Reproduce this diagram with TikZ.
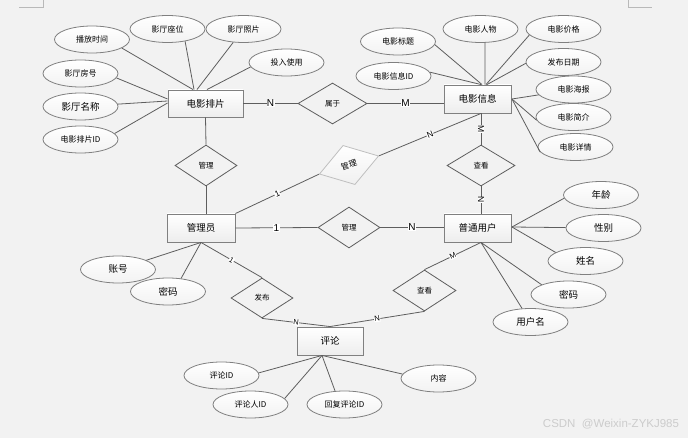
\documentclass[tikz,border=0pt]{standalone}
\usepackage{fontspec}
\setmainfont{Liberation Sans}
\newfontfamily\cjk{Noto Sans CJK SC}
\usetikzlibrary{shapes.geometric,calc}
\definecolor{bgc}{HTML}{F2F2F2}
\definecolor{linec}{HTML}{5E5E5E}
\definecolor{bordc}{HTML}{808080}
\begin{document}
\begin{tikzpicture}[x=1pt,y=-1pt,
  ent/.style={draw=bordc, line width=0.9pt, top color=white, bottom color=gray!14,
    minimum width=67pt, minimum height=28pt, inner sep=0pt, font=\cjk\fontsize{9.5}{10}\selectfont},
  attr/.style={ellipse, draw=bordc, line width=0.8pt, top color=white, bottom color=gray!10,
    minimum width=75pt, minimum height=27pt, inner sep=0pt, font=\cjk\fontsize{8}{9}\selectfont},
  attrb/.style={attr, font=\cjk\fontsize{9.5}{10}\selectfont},
  rel/.style={diamond, draw=linec, line width=0.8pt, fill=bgc, minimum width=62pt,
    minimum height=41pt, inner sep=0pt, font=\cjk\fontsize{7.5}{8}\selectfont},
  conn/.style={draw=linec, line width=0.8pt},
  lab/.style={fill=white, inner sep=0.4pt, font=\fontsize{10}{10}\selectfont, text=black},
  slab/.style={lab, sloped, font=\fontsize{7.5}{8}\selectfont},
  cornermark/.style={draw=gray!55, line width=0.7pt}
]
\fill[bgc] (0,0) rectangle (688,438);
\useasboundingbox (0,0) rectangle (688,438);
\draw[cornermark] (43,0) -- (43,7) -- (19,7);
\draw[cornermark] (628,0) -- (628,7) -- (652,7);

% entities
\node[ent, minimum width=75pt, minimum height=27pt] (pp) at (205.5,103.5) {电影排片};
\node[ent] (xx) at (477.5,99) {电影信息};
\node[ent, minimum width=68pt] (gl) at (201,228) {管理员};
\node[ent] (pt) at (477.5,228) {普通用户};
\node[ent, minimum width=66pt] (pl) at (330,341) {评论};

% relations
\node[rel, minimum width=69pt] (sy) at (332.5,103.5) {属于};
\node[rel] (gl1) at (206,165.5) {管理};
\node[rel, minimum width=68pt] (ck1) at (481,165.5) {查看};
\node[rel] (gl3) at (349,227.5) {管理};
\node[rel, minimum height=40pt] (fb) at (262,298) {发布};
\node[rel, minimum width=63pt] (ck2) at (424.5,290.5) {查看};
\node[rel, rotate=17, draw=gray!50, top color=white, bottom color=gray!12,
  font=\cjk\fontsize{8}{9}\selectfont] (gl2) at (349,165) {管理};

% attributes of 电影排片
\node[attr] (bf) at (92,39.5) {播放时间};
\node[attr] (zw) at (167.5,29) {影厅座位};
\node[attr] (zp) at (243.5,29) {影厅照片};
\node[attr] (tr) at (286.5,62.5) {投入使用};
\node[attr] (fh) at (80.5,73.5) {影厅房号};
\node[attrb] (mc) at (80.5,106.5) {影厅名称};
\node[attr] (ppid) at (80.5,139.5) {电影排片ID};

% attributes of 电影信息
\node[attr] (bt) at (398,41.5) {电影标题};
\node[attr] (rw) at (480.5,29) {电影人物};
\node[attr] (jg) at (563.5,29) {电影价格};
\node[attr] (rq) at (563.5,62) {发布日期};
\node[attr] (xid) at (393.5,76) {电影信息ID};
\node[attr] (hb) at (573.5,89.5) {电影海报};
\node[attr] (jj) at (573.5,117) {电影简介};
\node[attr] (xq) at (575.5,147) {电影详情};

% attributes of 普通用户
\node[attrb] (nl) at (601,195) {年龄};
\node[attrb] (xb) at (603.5,228) {性别};
\node[attrb] (xm) at (585.5,261) {姓名};
\node[attrb] (mm2) at (568.5,294.5) {密码};
\node[attrb] (yhm) at (530.5,322) {用户名};

% attributes of 管理员
\node[attrb] (zh) at (118,269.5) {账号};
\node[attrb] (mm1) at (168,291.5) {密码};

% attributes of 评论
\node[attr] (plid) at (221.5,375.5) {评论ID};
\node[attr] (plr) at (250.5,404.5) {评论人ID};
\node[attr] (hf) at (344.5,404.5) {回复评论ID};
\node[attr] (nr) at (438.5,378.5) {内容};

% attribute connectors
\draw[conn] (bf.-16) -- ($(pp.north)+(-12.5,0)$);
\draw[conn] (zw.-35) -- ($(pp.north)+(-11.5,0)$);
\draw[conn] (zp) -- ($(pp.north)+(-8.5,0)$);
\draw[conn] (tr.187) -- ($(pp.north)+(1.5,0)$);
\draw[conn] (fh.-7) -- ($(pp.west)+(0,-4.5)$);
\draw[conn] (mc) -- ($(pp.west)+(0,-2.5)$);
\draw[conn] (ppid.10) -- ($(pp.west)+(0,-0.5)$);

\draw[conn] (bt.-5) -- ($(xx.north)+(4.5,0)$);
\draw[conn] (rw.-72) -- ($(xx.north)+(7.5,0)$);
\draw[conn] (jg.190) -- ($(xx.north)+(8.5,0)$);
\draw[conn] (rq.182) -- ($(xx.north)+(9.5,0)$);
\draw[conn] (xid.6) -- ($(xx.north)+(3.5,0)$);
\draw[conn] (hb) -- ($(xx.east)+(0.5,0)$);
\draw[conn] (jj.185) -- ($(xx.east)+(0.5,0)$);
\draw[conn] (xq.188) -- ($(xx.east)+(0.5,0)$);

\draw[conn] (nl.185) -- ($(pt.east)+(0.5,-1)$);
\draw[conn] (xb) -- ($(pt.east)+(0.5,-1)$);
\draw[conn] (xm.164) -- ($(pt.east)+(0.5,-1)$);
\draw[conn] (mm2.160) -- ($(pt.south)+(3.5,0)$);
\draw[conn] (yhm) -- ($(pt.south)+(3.5,0)$);

\draw[conn] (zh) -- (gl.south);
\draw[conn] (mm1.45) -- (gl.south);

\draw[conn] (plid.4) -- ($(pl.south)+(-8,0)$);
\draw[conn] (plr.10) -- ($(pl.south)+(-8,0)$);
\draw[conn] (hf.125) -- ($(pl.south)+(-8,0)$);
\draw[conn] (nr.173) -- ($(pl.south)+(-8,0)$);

% relationship connectors
\draw[conn] (pp.east) -- node[lab] {N} (sy.west);
\draw[conn] (sy.east) -- node[lab] {M} (sy.east -| xx.west);
\draw[conn] (pp.south) -- (gl1.north);
\draw[conn] (gl1.south) -- (gl.north -| gl1.south);
\draw[conn] ($(xx.south)+(3.5,0)$) -- node[slab, font=\fontsize{8.5}{9}\selectfont] {M} (ck1.north);
\draw[conn] (ck1.south) -- node[slab, font=\fontsize{8.5}{9}\selectfont] {N} ($(pt.north)+(3.5,0)$);
\draw[conn] (gl.east) -- node[lab] {1} (gl3.west);
\draw[conn] (gl3.east) -- node[lab] {N} (gl3.east -| pt.west);
\draw[conn] (gl.north east) -- node[slab, font=\fontsize{8.5}{9}\selectfont] {1} (gl2.west);
\draw[conn] (gl2.east) -- node[slab, font=\fontsize{8.5}{9}\selectfont] {N} ($(xx.south)+(3.5,0)$);
\draw[conn] (gl.south) -- node[slab] {1} (fb.north);
\draw[conn] (fb.south) -- node[slab] {N} (pl.north);
\draw[conn] (ck2.south) -- node[slab] {N} (pl.north);
\draw[conn] (ck2.north) -- node[slab] {M} ($(pt.south)+(3.5,0)$);

% watermark
\node[font=\fontsize{11.5}{12}\selectfont, text=gray!40] (wm) at (611,424) {CSDN\ \ @Weixin-ZYKJ985};
\end{tikzpicture}
\end{document}
